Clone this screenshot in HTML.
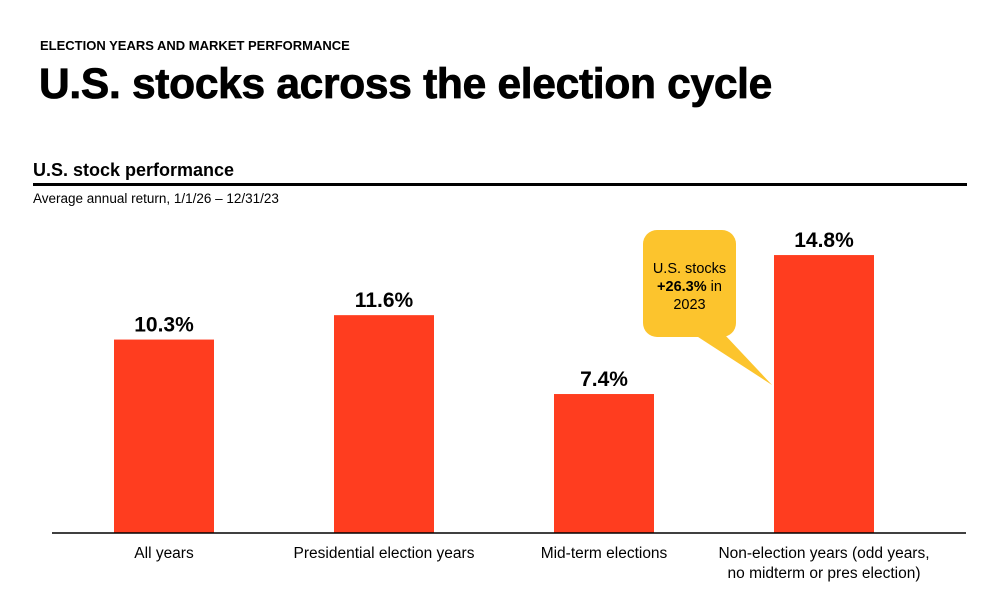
<!DOCTYPE html>
<html><head><meta charset="utf-8"><style>
body{margin:0;background:#fff;width:1000px;height:607px;overflow:hidden;font-family:"Liberation Sans",sans-serif;color:#000}
</style></head><body>
<svg width="1000" height="607" style="position:absolute;left:0;top:0">
<text x="40" y="50" font-size="13" font-weight="bold">ELECTION YEARS AND MARKET PERFORMANCE</text>
<text x="39" y="98" font-size="42.5" font-weight="bold" stroke="#000" stroke-width="0.8" letter-spacing="-0.3">U.S. stocks across the election cycle</text>
<text x="33" y="176" font-size="18" font-weight="bold">U.S. stock performance</text>
<rect x="33" y="183" width="934" height="3" fill="#000"/>
<text x="33" y="203" font-size="13.5">Average annual return, 1/1/26 – 12/31/23</text>
<g id="bars"></g>
<line x1="52" y1="533" x2="966" y2="533" stroke="#000" stroke-width="1.5"/>
<g>
<rect x="643" y="230" width="93" height="107" rx="14" fill="#fcc42d"/>
<polygon points="695,335 725,335 772,385" fill="#fcc42d"/>
<text x="689.5" y="273" font-size="14.5" text-anchor="middle">U.S. stocks</text>
<text x="689.5" y="291" font-size="14.5" text-anchor="middle"><tspan font-weight="bold">+26.3%</tspan> in</text>
<text x="689.5" y="309" font-size="14.5" text-anchor="middle">2023</text>
</g>
</svg>
<script>
const categories=["All years","Presidential election years","Mid-term elections","Non-election years (odd years,|no midterm or pres election)"];
const values=[10.3,11.6,7.4,14.8];
const valueLabels=["10.3%","11.6%","7.4%","14.8%"];
const base=533, scale=18.78;
const y=v=>base-v*scale;
const xc=i=>164+i*220;
const g=document.getElementById('bars');
const NS="http://www.w3.org/2000/svg";
values.forEach((v,i)=>{
 const r=document.createElementNS(NS,'rect');
 r.setAttribute('x',xc(i)-50);r.setAttribute('y',y(v));r.setAttribute('width',100);r.setAttribute('height',base-y(v));r.setAttribute('fill','#ff3d1f');
 
 
 g.appendChild(r);
 const t=document.createElementNS(NS,'text');
 t.setAttribute('x',xc(i));t.setAttribute('y',y(v)-8);t.setAttribute('text-anchor','middle');t.setAttribute('font-size','21');t.setAttribute('font-weight','bold');
 t.textContent=valueLabels[i];
 
 
 g.appendChild(t);
 categories[i].split('|').forEach((line,j)=>{
  const c=document.createElementNS(NS,'text');
  c.setAttribute('x',xc(i));c.setAttribute('y',558+j*20);c.setAttribute('text-anchor','middle');c.setAttribute('font-size','15.5');
  c.textContent=line;
  
  
  g.appendChild(c);
 });
});
</script>
</body></html>
